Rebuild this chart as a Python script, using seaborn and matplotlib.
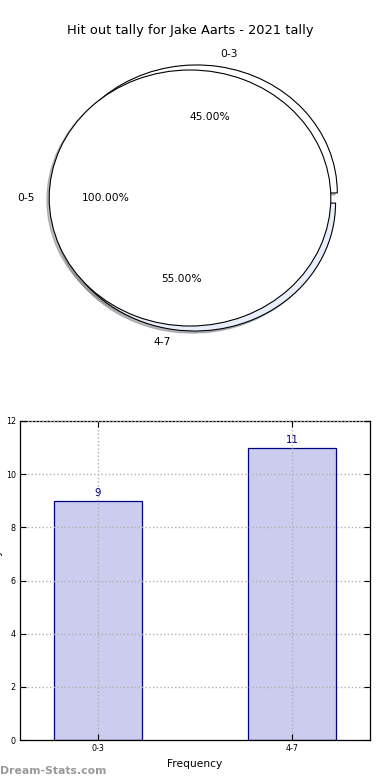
import matplotlib
matplotlib.use("Agg")  # headless backend
import matplotlib.pyplot as plt
import seaborn as sns

# data
categories = ["0-3", "4-7"]
counts = [9, 11]
total_label = ["0-5"]
total_count = [sum(counts)]

title = "Hit out tally for Jake Aarts - 2021 tally"
bar_color = "#ccccee"
edge_color = "navy"

fig = plt.figure(figsize=(3.9, 7.8), dpi=100)

# ---- top: pie of the two bands, with the overall band laid on top
ax_pie = fig.add_axes([14 / 390, 1 - 358 / 780, 352 / 390, 320 / 780])
wedge_kw = dict(edgecolor="black", linewidth=0.8)
text_kw = dict(fontsize=7.7)
shadow_kw = dict(ox=-0.012, oy=-0.012, shade=0.5)
ax_pie.pie(
    counts, labels=categories, autopct="%1.2f%%", startangle=0,
    explode=(0.04, 0.04), center=(0.04, 0), shadow=shadow_kw,
    colors=["white", "#e8eefa"], wedgeprops=wedge_kw, textprops=text_kw,
)
ax_pie.pie(
    total_count, labels=total_label, autopct="%1.2f%%", startangle=0,
    center=(0, 0), shadow=shadow_kw, colors=["white"],
    wedgeprops=wedge_kw, textprops=text_kw,
)
ax_pie.set_aspect("auto")
ax_pie.set_xlim(-1.25, 1.25)
ax_pie.set_ylim(-1.25, 1.25)
ax_pie.set_title(title, fontsize=9.4, pad=3)

# ---- bottom: bar chart of the same counts
ax_bar = fig.add_axes([20 / 390, 1 - 740 / 780, 350 / 390, 319 / 780])
sns.barplot(
    x=categories, y=counts, ax=ax_bar, color=bar_color, saturation=1,
    edgecolor=edge_color, linewidth=0.9, width=0.45,
)
ax_bar.bar_label(ax_bar.containers[0], color=edge_color, fontsize=7.4, padding=2)
ax_bar.set_xlim(-0.4, 1.4)
ax_bar.set_ylim(0, 12)
ax_bar.set_yticks(range(0, 13, 2))
ax_bar.grid(True, linestyle=":", color="#b0b0b0", linewidth=1)
ax_bar.set_axisbelow(False)
ax_bar.tick_params(direction="in", top=True, right=True, length=4, labelsize=5.8, pad=3)
for s in ax_bar.spines.values():
    s.set_color("black")
    s.set_linewidth(0.9)
ax_bar.set_xlabel("Frequency", fontsize=7.7, labelpad=4)
# the reference has this label mostly clipped at the left edge
ax_bar.set_ylabel("Hit out tally", fontsize=7.7)
ax_bar.yaxis.set_label_coords(-0.048, 0.5)

fig.text(0.0, 1 - 771 / 780, "Dream-Stats.com", fontsize=7.8, color="#999999",
         fontweight="bold", va="center", ha="left")

fig.savefig("out.png", dpi=100)
